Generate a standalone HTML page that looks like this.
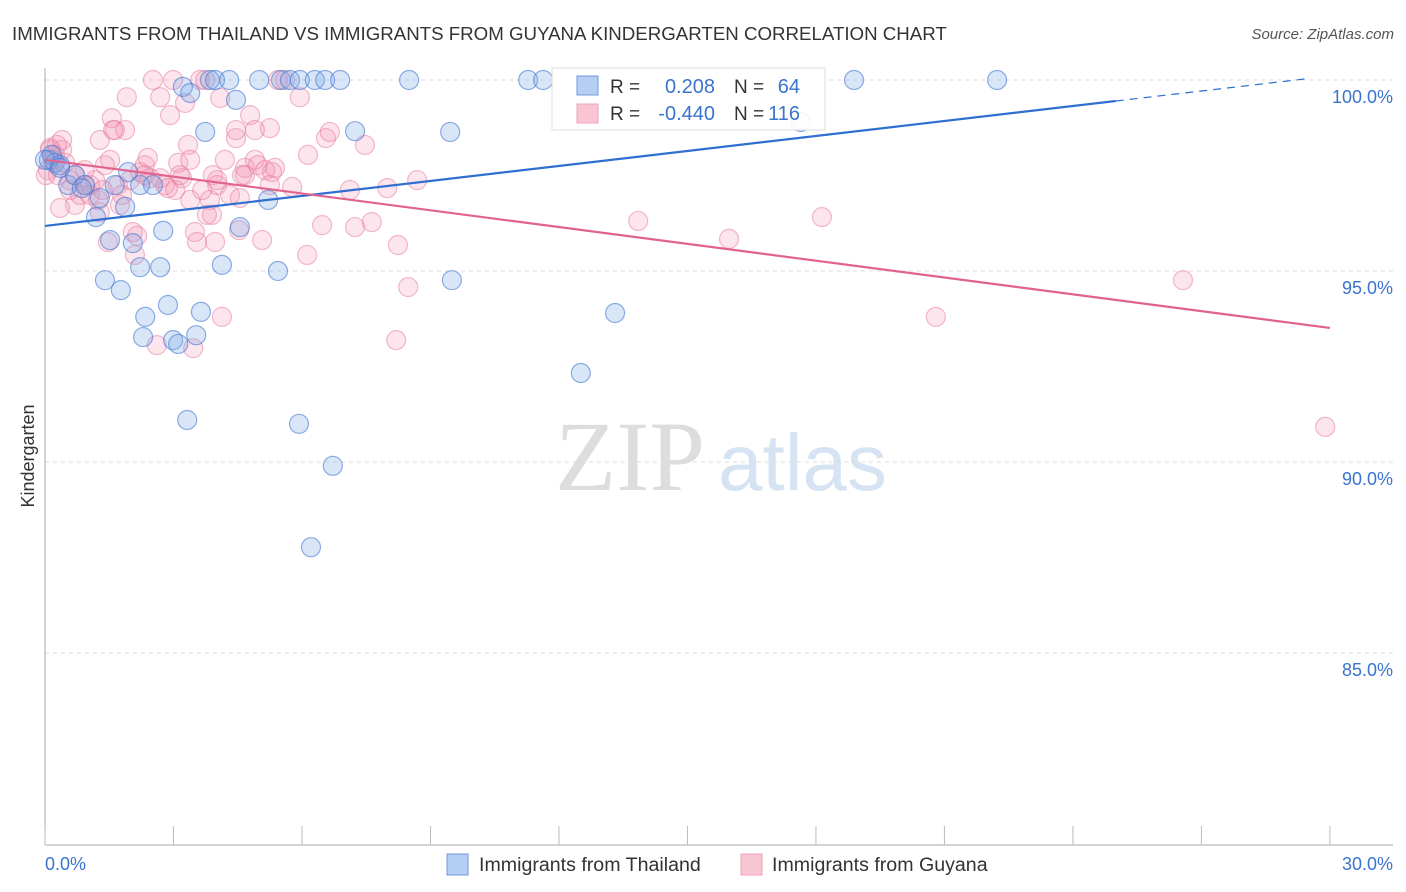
<!DOCTYPE html>
<html><head><meta charset="utf-8"><style>
body{margin:0;background:#fff;font-family:"Liberation Sans",sans-serif}
#wrap{position:relative;width:1406px;height:892px;overflow:hidden}
</style></head><body>
<div id="wrap">
<svg id="svg" width="1406" height="892" xmlns="http://www.w3.org/2000/svg">
<text x="12" y="40" font-size="18.7" fill="#333">IMMIGRANTS FROM THAILAND VS IMMIGRANTS FROM GUYANA KINDERGARTEN CORRELATION CHART</text>
<text x="1394" y="39" font-size="15" fill="#555" text-anchor="end" font-style="italic">Source: ZipAtlas.com</text>
<text x="34" y="456" font-size="18" fill="#333" text-anchor="middle" transform="rotate(-90 34 456)">Kindergarten</text>
<text x="555" y="490" font-size="100" fill="#ddd" font-family="Liberation Serif,serif">ZIP</text>
<text x="718" y="490" font-size="80" fill="#d6e3f3">atlas</text>
<g id="grid"></g><g id="axes"></g><g id="pts"></g><g id="trend"></g>
<g>
<rect x="552" y="68" width="273" height="62" fill="#fff" fill-opacity="0.9" stroke="#ddd"/>
<rect x="577" y="76" width="21" height="19" fill="#b4cff3" stroke="#6f9ad8"/>
<rect x="577" y="104" width="21" height="19" fill="#fac5d3" stroke="#eba3b8"/>
<text x="610" y="93" font-size="19" fill="#333">R = </text>
<text x="715" y="93" font-size="20" fill="#3a74cf" text-anchor="end">0.208</text>
<text x="734" y="93" font-size="19" fill="#333">N = </text>
<text x="800" y="93" font-size="20" fill="#3a74cf" text-anchor="end">64</text>
<text x="610" y="120" font-size="19" fill="#333">R = </text>
<text x="715" y="120" font-size="20" fill="#3a74cf" text-anchor="end">-0.440</text>
<text x="734" y="120" font-size="19" fill="#333">N = </text>
<text x="800" y="120" font-size="20" fill="#3a74cf" text-anchor="end">116</text>
</g>
<g>
<rect x="447" y="854" width="21" height="21" fill="#b4cff3" stroke="#6f9ad8"/>
<text x="479" y="871" font-size="19.6" fill="#333">Immigrants from Thailand</text>
<text x="772" y="871" font-size="19.6" fill="#333">Immigrants from Guyana</text>
<rect x="741" y="854" width="21" height="21" fill="#fac5d3" stroke="#eba3b8"/>
</g>
</svg>
</div>
<script>
const xTicks=[0,3,6,9,12,15,18,21,24,27,30];
const yTicks=[100,95,90,85];
const yTickLabels=["100.0%","95.0%","90.0%","85.0%"];
const thaiX=[0.09,0.23,0.16,0.35,0.54,0.70,0.93,1.28,1.19,1.52,1.40,1.77,1.63,1.94,1.87,2.05,2.22,2.34,2.29,2.52,2.69,2.76,2.87,2.99,3.11,3.22,3.39,3.32,3.53,3.64,3.74,3.85,3.97,4.30,4.46,4.13,4.55,5.00,5.21,5.44,5.51,5.72,5.93,5.95,6.30,6.54,6.72,6.89,6.21,7.24,8.50,9.46,9.50,11.28,11.63,12.51,13.31,17.65,18.89,22.23,0.35,0.0,0.86,2.22];
const thaiY=[97.91,97.83,98.04,97.77,97.25,97.51,97.25,96.91,96.41,95.81,94.76,94.50,97.25,97.59,96.68,95.73,95.10,93.80,93.27,97.25,95.10,96.05,94.11,93.19,93.09,99.82,99.66,91.10,93.32,93.93,98.64,100,100,100,99.48,95.16,96.15,100,96.86,95.0,100,100,91.0,100,100,100,89.9,100,87.77,98.66,100,98.64,94.76,100,100,92.33,93.90,98.90,100,100,97.70,97.91,97.17,97.25];
const guyX=[0.12,0.23,0.07,0.40,0.30,0.47,0.58,0.70,0.82,0.93,1.05,1.17,1.28,1.40,1.52,1.56,1.63,1.70,1.80,1.87,1.91,1.98,2.05,2.15,2.22,2.33,2.40,2.45,2.52,2.61,2.69,2.80,2.92,2.99,3.04,3.11,3.20,3.27,3.34,3.39,3.46,3.50,3.55,3.62,3.74,3.85,3.92,3.97,4.02,4.09,4.13,4.20,4.32,4.46,4.53,4.60,4.67,4.79,4.90,4.97,5.07,5.25,5.30,5.44,5.60,5.77,5.95,6.12,6.14,6.47,6.56,6.65,7.12,7.24,7.47,7.63,7.99,8.20,8.24,8.48,8.69,13.85,15.97,18.14,20.80,26.57,29.89,0.35,0.58,0.70,1.05,1.28,1.47,1.59,1.75,2.10,2.33,2.69,2.87,3.15,3.39,3.67,3.78,3.90,4.02,4.46,4.55,4.67,4.90,5.14,5.37,5.25,0.02,0.12,0.19,0.28,0.40,0.93,1.24,1.35];
const guyY=[98.22,98.04,97.64,98.17,97.51,97.83,97.38,96.73,96.99,97.64,97.25,97.38,98.43,97.77,97.91,99.0,98.69,97.25,96.99,98.69,99.55,97.38,96.02,95.92,97.59,97.77,97.96,97.43,100,93.06,99.55,97.25,99.08,100,97.12,97.83,97.43,99.40,98.30,97.91,92.98,96.02,95.76,100,100,96.86,97.51,95.76,97.25,99.53,93.80,97.91,96.99,98.48,96.07,97.51,97.70,99.08,97.91,97.77,95.81,98.74,97.59,100,100,97.20,99.55,95.42,98.04,96.20,98.48,98.64,97.12,96.15,98.30,96.28,97.17,93.19,95.68,94.58,97.38,96.31,95.84,96.41,93.80,94.76,90.92,96.65,97.12,97.51,96.99,96.54,95.76,98.69,96.73,95.42,97.51,97.43,97.17,97.51,96.86,97.12,96.47,96.47,97.38,98.69,96.91,97.51,98.69,97.64,97.70,97.25,97.51,98.17,97.91,98.30,98.43,97.25,96.86,97.12,97.43];
const thaiTrend=[96.18,0.1308];
const guyTrend=[97.91,-0.1467];
const X=v=>45+v*42.83, Y=v=>80+(100-v)*38.2;
const NS="http://www.w3.org/2000/svg";
function mk(tag,attrs,parent){const e=document.createElementNS(NS,tag);for(const k in attrs)e.setAttribute(k,attrs[k]);document.getElementById(parent).appendChild(e);return e;}
yTicks.forEach((t,i)=>{
 const l=mk('line',{x1:45,x2:1393,y1:Y(t),y2:Y(t),stroke:'#ddd','stroke-dasharray':'4,4'},'grid');
 
 
 const tx=mk('text',{x:1393,y:Y(t)+23,'font-size':18,fill:'#3a74cf','text-anchor':'end'},'grid');
 tx.textContent=yTickLabels[i];
 
 
});
let a=mk('line',{x1:45,x2:45,y1:68,y2:845,stroke:'#aaa'},'axes');


a=mk('line',{x1:45,x2:1393,y1:845,y2:845,stroke:'#aaa'},'axes');


xTicks.forEach(t=>{const l=mk('line',{x1:X(t),x2:X(t),y1:826,y2:845,stroke:'#bbb'},'axes');
 
 });
let t0=mk('text',{x:45,y:870,'font-size':18,fill:'#3a74cf'},'axes');t0.textContent=xTicks[0].toFixed(1)+'%';


let t1=mk('text',{x:1393,y:870,'font-size':18,fill:'#3a74cf','text-anchor':'end'},'axes');t1.textContent=xTicks[xTicks.length-1].toFixed(1)+'%';


guyX.forEach((v,i)=>{const c=mk('circle',{cx:X(v),cy:Y(guyY[i]),r:9.5,fill:'rgba(244,150,178,0.25)',stroke:'rgba(230,120,155,0.5)','stroke-width':1.2},'pts');
 
 });
thaiX.forEach((v,i)=>{const c=mk('circle',{cx:X(v),cy:Y(thaiY[i]),r:9.5,fill:'rgba(120,165,230,0.28)',stroke:'rgba(70,120,210,0.6)','stroke-width':1.2},'pts');
 
 });
const ty=x=>thaiTrend[0]+thaiTrend[1]*x, gy=x=>guyTrend[0]+guyTrend[1]*x;
let l=mk('line',{x1:X(0),y1:Y(ty(0)),x2:X(25),y2:Y(ty(25)),stroke:'#2f6fd0','stroke-width':2.2},'trend');


l=mk('line',{x1:X(25),y1:Y(ty(25)),x2:X(29.5),y2:Y(ty(29.5)),stroke:'#2f6fd0','stroke-width':1.2,'stroke-dasharray':'8,6'},'trend');


l=mk('line',{x1:X(0),y1:Y(gy(0)),x2:X(30),y2:Y(gy(30)),stroke:'#e2628e','stroke-width':2.2},'trend');


</script>
</body></html>
